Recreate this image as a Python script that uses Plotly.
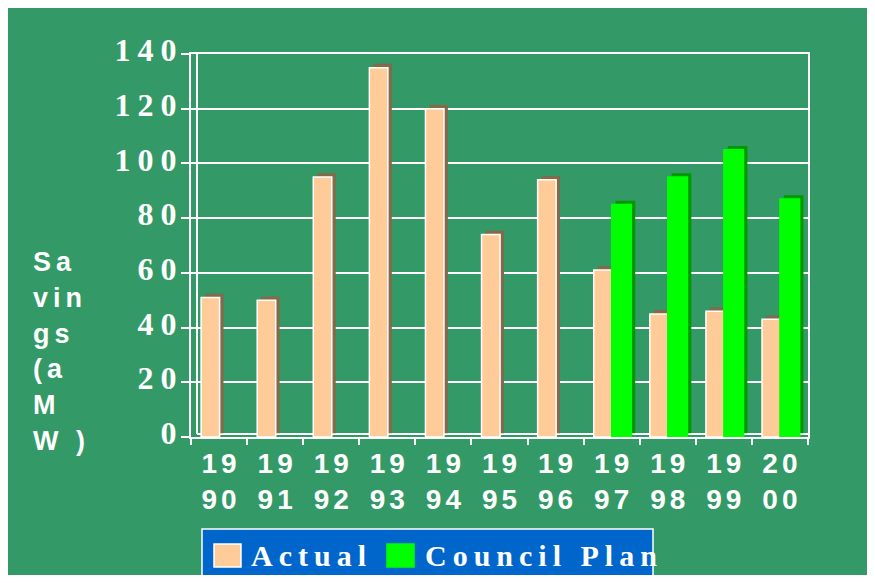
import plotly.graph_objects as go

# ---------------- data ----------------
YEARS = ["1990", "1991", "1992", "1993", "1994", "1995", "1996", "1997", "1998", "1999", "2000"]
ACTUAL = [51, 50, 95, 135, 120, 74, 94, 61, 45, 46, 43]
COUNCIL_PLAN = [None, None, None, None, None, None, None, 85, 95, 105, 87]
Y_TICKS = [0, 20, 40, 60, 80, 100, 120, 140]
Y_TITLE_LINES = ["Sa", "vin", "gs", "(a", "M", "W )"]
LEGEND_NAMES = ["Actual", "Council Plan"]

# ---------------- style ----------------
BG = "#339966"
PEACH = "#FFCC99"
PEACH_SIDE = "#86684A"
GREEN = "#00FF00"
GREEN_SIDE = "#009A00"
LEGEND_BLUE = "#0066CC"

# page body margin is 8px, so the figure is sized to fill the 875x583 window exactly
PAGE = 8
W, H = 875 - 2 * PAGE, 583 - 2 * PAGE
L, R, T, B = 183, 59, 46, 138
PW, PH = W - L - R, H - T - B


def px2x(px):
    # screen pixel -> paper x
    return (px - PAGE - L) / PW


def py2y(py):
    # screen pixel -> paper y
    return (H - B - (py - PAGE)) / PH


def spaced(txt, sp):
    # letter spacing between characters only (no trailing gap)
    if len(txt) < 2:
        return txt
    return f'<span style="letter-spacing:{sp}px">{txt[:-1]}</span>{txt[-1]}'


tick_text = [spaced(y[:2], 4) + "<br>" + spaced(y[2:], 4) for y in YEARS]

fig = go.Figure()

# depth faces (shifted up/right) drawn first, front faces on top
DX, DY = 0.07, 1.4
series = [
    (ACTUAL, PEACH, PEACH_SIDE, -0.32, 0.33, "white"),
    (COUNCIL_PLAN, GREEN, GREEN_SIDE, 0.0, 0.35, GREEN),
]
for vals, col, side, off, wid, edge in series:
    fig.add_trace(go.Bar(x=YEARS, y=vals, base=DY, offset=off + DX, width=wid,
                         marker=dict(color=side, line=dict(width=0)),
                         hoverinfo="skip", showlegend=False))
    fig.add_trace(go.Bar(x=YEARS, y=vals, offset=off, width=wid,
                         marker=dict(color=col, line=dict(color=edge, width=1.5)),
                         showlegend=False))

shapes = []
annotations = []

# back wall edges
shapes.append(dict(type="line", xref="paper", yref="paper", x0=px2x(197), x1=px2x(197),
                   y0=py2y(434), y1=1, line=dict(color="white", width=2), layer="below"))
shapes.append(dict(type="line", xref="paper", yref="paper", x0=px2x(197), x1=1,
                   y0=py2y(434), y1=py2y(434), line=dict(color="white", width=2), layer="below"))

# y-axis title, one annotation per wrapped line
for i, line in enumerate(Y_TITLE_LINES):
    annotations.append(dict(text=spaced(line, 5), xref="paper", yref="paper",
                            x=px2x(31), y=py2y(262 + i * 35.8), xanchor="left", yanchor="middle",
                            showarrow=False,
                            font=dict(family="Liberation Sans, Arial", size=27, color="white",
                                      weight="bold")))

# legend box
shapes.append(dict(type="rect", xref="paper", yref="paper", x0=px2x(202), x1=px2x(653),
                   y0=py2y(579), y1=py2y(529), fillcolor=LEGEND_BLUE,
                   line=dict(color="white", width=1.5)))
legend_items = [(LEGEND_NAMES[0], PEACH, "white", 214, 251),
                (LEGEND_NAMES[1], GREEN, GREEN, 387, 425)]
for name, col, edge, sx, tx in legend_items:
    shapes.append(dict(type="rect", xref="paper", yref="paper", x0=px2x(sx), x1=px2x(sx + 27),
                       y0=py2y(567), y1=py2y(544), fillcolor=col, line=dict(color=edge, width=1.5)))
    annotations.append(dict(text=spaced(name, 6), xref="paper", yref="paper",
                            x=px2x(tx - 2), y=py2y(555), xanchor="left", yanchor="middle",
                            showarrow=False,
                            font=dict(family="Liberation Serif, Times New Roman", size=30,
                                      color="white", weight="bold")))

fig.update_layout(
    width=W, height=H,
    margin=dict(l=L, r=R, t=T, b=B),
    paper_bgcolor=BG, plot_bgcolor=BG,
    barmode="overlay",
    showlegend=False,
    shapes=shapes,
    annotations=annotations,
)
fig.update_xaxes(
    type="category", range=[-0.5, 10.5],
    tickvals=YEARS, ticktext=tick_text, tickson="boundaries",
    ticks="outside", ticklen=6, tickcolor="white", tickwidth=1.5,
    showline=True, linecolor="white", linewidth=2, mirror=True,
    showgrid=False,
    tickfont=dict(family="Liberation Sans, Arial", size=28, color="white", weight="bold"),
)
fig.update_yaxes(
    range=[0, 140], tickvals=Y_TICKS, ticktext=[spaced(str(v), 7) for v in Y_TICKS],
    ticks="outside", ticklen=8, tickcolor="white", tickwidth=1.5,
    showline=True, linecolor="white", linewidth=2, mirror=True,
    showgrid=True, gridcolor="white", gridwidth=2, zeroline=False,
    ticklabelshift=-4, ticklabelstandoff=-2,
    tickfont=dict(family="Liberation Serif, Times New Roman", size=32, color="white", weight="bold"),
)

fig.write_html("out.html")
